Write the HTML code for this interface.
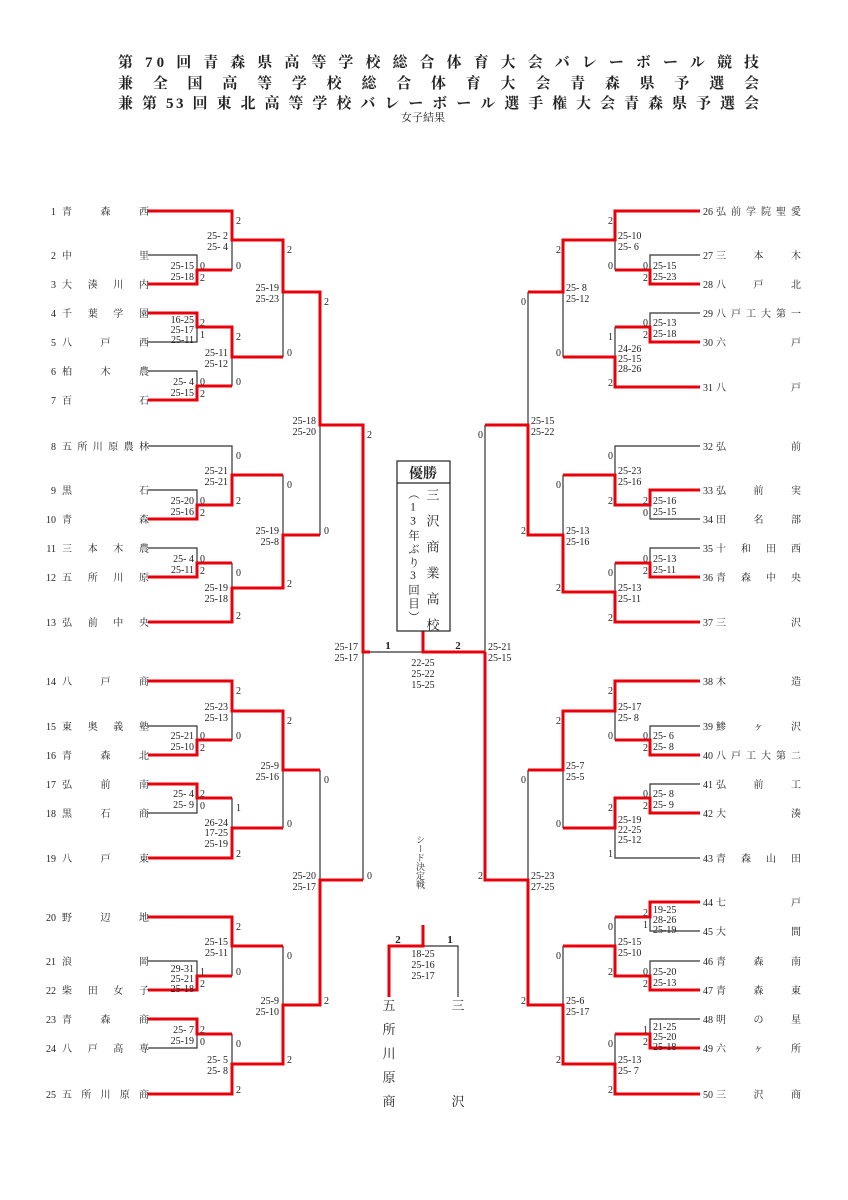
<!DOCTYPE html>
<html><head><meta charset="utf-8"><style>
html,body{margin:0;padding:0;background:#fff}
svg{display:block}
text{font-family:"Liberation Serif","Noto Serif CJK SC",serif;fill:#222}
.r{stroke:#e8000b;stroke-width:3;fill:none;stroke-linejoin:miter}
.k{stroke:#333;stroke-width:1.2;fill:none}
.s{font-size:10px}
.n{font-size:10px}
</style></head><body>
<svg width="848" height="1200" viewBox="0 0 848 1200" xmlns="http://www.w3.org/2000/svg">
<rect width="848" height="1200" fill="#fff"/>
<g font-size="15" font-weight="bold">
<text x="118" y="67" textLength="641" lengthAdjust="spacing">第 70 回 青 森 県 高 等 学 校 総 合 体 育 大 会 バ レ ー ボ ー ル 競 技</text>
<text x="118" y="88" textLength="641" lengthAdjust="spacing">兼 全 国 高 等 学 校 総 合 体 育 大 会 青 森 県 予 選 会</text>
<text x="118" y="108" textLength="641" lengthAdjust="spacing">兼 第 53 回 東 北 高 等 学 校 バ レ ー ボ ー ル 選 手 権 大 会 青 森 県 予 選 会</text>
</g>
<text x="423" y="121" font-size="11" text-anchor="middle">女子結果</text>

<!-- black lines -->
<path class="k" d="M148 255H197V270 M232 240V270 M148 342H197V327 M232 357V386 M148 371H197V386 M283 292V357 M148 446H232V475 M148 490H197V505 M283 475V535 M148 548H197V563 M232 563V588 M320 425V535 M370 652H423 M232 711V740 M148 726H197V740 M148 813H197V798 M232 798V828 M283 770V828 M320 770V880 M363 652V880 M232 946V976 M148 961H197V976 M148 1048H197V1034 M232 1034V1064 M283 946V1005"/>
<path class="k" d="M700 255H650V270 M615 240V270 M700 313H650V327 M615 327V357 M563 292V357 M528 292V425 M700 446H615V475 M700 519H650V505 M563 475V535 M700 548H650V563 M615 563V592 M485 425V652 M700 726H650V740 M615 711V740 M700 784H650V798 M700 858H615V828 M563 770V828 M528 770V880 M700 931H650V917 M700 961H650V976 M615 917V946 M700 1019H650V1034 M615 1034V1064 M563 946V1005"/>
<path class="k" d="M423 946H458V997"/>
<!-- red lines -->
<path class="r" d="M148 211H232V240H283V292H320V425H363V652H370 M148 284H197V270H232 M148 313H197V327H232V357H283 M148 400H197V386H232 M148 519H197V505H232V475H283 M148 577H197V563H232 M148 622H232V588H283V535H320 M148 681H232V711H283V770H320 M148 755H197V740H232 M148 784H197V798H232 M148 858H232V828H283 M148 917H232V946H283 M148 990H197V976H232 M148 1019H197V1034H232 M148 1094H232V1064H283V1005H320V880H363"/>
<path class="r" d="M700 211H615V240H563V292H528 M700 284H650V270H615 M700 342H650V327H615 M700 387H615V357H563 M700 490H650V505H615V475H563 M700 577H650V563H615 M700 622H615V592H563V535H528V425H485 M485 652V880H528V1005H563V1064H615V1094H700 M485 652H423V631 M700 681H615V711H563V770H528 M700 755H650V740H615 M700 813H650V798H615V828H563 M700 902H650V917H615 M700 990H650V976H615V946H563 M700 1048H650V1034H615"/>
<path class="r" d="M423 925V946H389V997"/>

<!-- box -->
<rect x="397" y="461" width="53" height="170" fill="#fff" stroke="#222" stroke-width="1.2"/>
<line x1="397" y1="483" x2="450" y2="483" stroke="#222" stroke-width="1.2"/>
<text x="423" y="478" font-size="14" font-weight="bold" text-anchor="middle">優勝</text>
<text x="432" y="488" font-size="13" style="writing-mode:vertical-rl;letter-spacing:13px">三沢商業高校</text>
<text x="413" y="488" font-size="11.5" style="writing-mode:vertical-rl;text-orientation:upright;letter-spacing:2px">（13年ぶり3回目）</text>

<!-- left names -->
<g class="n">
<g text-anchor="end">
<text x="56" y="215">1</text><text x="56" y="259">2</text><text x="56" y="288">3</text><text x="56" y="317">4</text><text x="56" y="346">5</text><text x="56" y="375">6</text><text x="56" y="404">7</text><text x="56" y="450">8</text><text x="56" y="494">9</text><text x="56" y="523">10</text><text x="56" y="552">11</text><text x="56" y="581">12</text><text x="56" y="626">13</text><text x="56" y="685">14</text><text x="56" y="730">15</text><text x="56" y="759">16</text><text x="56" y="788">17</text><text x="56" y="817">18</text><text x="56" y="862">19</text><text x="56" y="921">20</text><text x="56" y="965">21</text><text x="56" y="994">22</text><text x="56" y="1023">23</text><text x="56" y="1052">24</text><text x="56" y="1098">25</text>
</g>
<text x="62 100.5 139" y="215">青森西</text>
<text x="62 139" y="259">中里</text>
<text x="62 87.7 113.3 139" y="288">大湊川内</text>
<text x="62 87.7 113.3 139" y="317">千葉学園</text>
<text x="62 100.5 139" y="346">八戸西</text>
<text x="62 100.5 139" y="375">柏木農</text>
<text x="62 139" y="404">百石</text>
<text x="62 77.4 92.8 108.2 123.6 139" y="450">五所川原農林</text>
<text x="62 139" y="494">黒石</text>
<text x="62 139" y="523">青森</text>
<text x="62 87.7 113.3 139" y="552">三本木農</text>
<text x="62 87.7 113.3 139" y="581">五所川原</text>
<text x="62 87.7 113.3 139" y="626">弘前中央</text>
<text x="62 100.5 139" y="685">八戸商</text>
<text x="62 87.7 113.3 139" y="730">東奥義塾</text>
<text x="62 100.5 139" y="759">青森北</text>
<text x="62 100.5 139" y="788">弘前南</text>
<text x="62 100.5 139" y="817">黒石商</text>
<text x="62 100.5 139" y="862">八戸東</text>
<text x="62 100.5 139" y="921">野辺地</text>
<text x="62 139" y="965">浪岡</text>
<text x="62 87.7 113.3 139" y="994">柴田女子</text>
<text x="62 100.5 139" y="1023">青森商</text>
<text x="62 87.7 113.3 139" y="1052">八戸高専</text>
<text x="62 81.25 100.5 119.75 139" y="1098">五所川原商</text>
</g>

<!-- right names -->
<g class="n">
<text x="703" y="215">26</text><text x="703" y="259">27</text><text x="703" y="288">28</text><text x="703" y="317">29</text><text x="703" y="346">30</text><text x="703" y="391">31</text><text x="703" y="450">32</text><text x="703" y="494">33</text><text x="703" y="523">34</text><text x="703" y="552">35</text><text x="703" y="581">36</text><text x="703" y="626">37</text><text x="703" y="685">38</text><text x="703" y="730">39</text><text x="703" y="759">40</text><text x="703" y="788">41</text><text x="703" y="817">42</text><text x="703" y="862">43</text><text x="703" y="906">44</text><text x="703" y="935">45</text><text x="703" y="965">46</text><text x="703" y="994">47</text><text x="703" y="1023">48</text><text x="703" y="1052">49</text><text x="703" y="1098">50</text>
<text x="716 731 746 761 776 791" y="215">弘前学院聖愛</text>
<text x="716 753.5 791" y="259">三本木</text>
<text x="716 753.5 791" y="288">八戸北</text>
<text x="716 731 746 761 776 791" y="317">八戸工大第一</text>
<text x="716 791" y="346">六戸</text>
<text x="716 791" y="391">八戸</text>
<text x="716 791" y="450">弘前</text>
<text x="716 753.5 791" y="494">弘前実</text>
<text x="716 753.5 791" y="523">田名部</text>
<text x="716 741 766 791" y="552">十和田西</text>
<text x="716 741 766 791" y="581">青森中央</text>
<text x="716 791" y="626">三沢</text>
<text x="716 791" y="685">木造</text>
<text x="716 753.5 791" y="730">鯵ヶ沢</text>
<text x="716 731 746 761 776 791" y="759">八戸工大第二</text>
<text x="716 753.5 791" y="788">弘前工</text>
<text x="716 791" y="817">大湊</text>
<text x="716 741 766 791" y="862">青森山田</text>
<text x="716 791" y="906">七戸</text>
<text x="716 791" y="935">大間</text>
<text x="716 753.5 791" y="965">青森南</text>
<text x="716 753.5 791" y="994">青森東</text>
<text x="716 753.5 791" y="1023">明の星</text>
<text x="716 753.5 791" y="1052">六ヶ所</text>
<text x="716 753.5 791" y="1098">三沢商</text>
</g>

<!-- left scores -->
<g class="s" text-anchor="end">
<text x="194" y="269">25-15</text><text x="194" y="280">25-18</text>
<text x="194" y="323">16-25</text><text x="194" y="333">25-17</text><text x="194" y="343">25-11</text>
<text x="194" y="385">25-&#160;4</text><text x="194" y="396">25-15</text>
<text x="194" y="504">25-20</text><text x="194" y="515">25-16</text>
<text x="194" y="562">25-&#160;4</text><text x="194" y="573">25-11</text>
<text x="194" y="739">25-21</text><text x="194" y="750">25-10</text>
<text x="194" y="797">25-&#160;4</text><text x="194" y="808">25-&#160;9</text>
<text x="194" y="972">29-31</text><text x="194" y="982">25-21</text><text x="194" y="992">25-18</text>
<text x="194" y="1033">25-&#160;7</text><text x="194" y="1044">25-19</text>
<text x="228" y="239">25-&#160;2</text><text x="228" y="250">25-&#160;4</text>
<text x="228" y="356">25-11</text><text x="228" y="367">25-12</text>
<text x="228" y="474">25-21</text><text x="228" y="485">25-21</text>
<text x="228" y="591">25-19</text><text x="228" y="602">25-18</text>
<text x="228" y="710">25-23</text><text x="228" y="721">25-13</text>
<text x="228" y="826">26-24</text><text x="228" y="836">17-25</text><text x="228" y="847">25-19</text>
<text x="228" y="945">25-15</text><text x="228" y="956">25-11</text>
<text x="228" y="1063">25-&#160;5</text><text x="228" y="1074">25-&#160;8</text>
<text x="279" y="291">25-19</text><text x="279" y="302">25-23</text>
<text x="279" y="534">25-19</text><text x="279" y="545">25-8</text>
<text x="279" y="769">25-9</text><text x="279" y="780">25-16</text>
<text x="279" y="1004">25-9</text><text x="279" y="1015">25-10</text>
<text x="316" y="424">25-18</text><text x="316" y="435">25-20</text>
<text x="316" y="879">25-20</text><text x="316" y="890">25-17</text>
<text x="358" y="650">25-17</text><text x="358" y="661">25-17</text>
</g>
<g class="s">
<text x="200" y="269">0</text><text x="200" y="281">2</text>
<text x="200" y="326">2</text><text x="200" y="338">1</text>
<text x="200" y="385">0</text><text x="200" y="397">2</text>
<text x="200" y="504">0</text><text x="200" y="516">2</text>
<text x="200" y="562">0</text><text x="200" y="574">2</text>
<text x="200" y="739">0</text><text x="200" y="751">2</text>
<text x="200" y="797">2</text><text x="200" y="809">0</text>
<text x="200" y="975">1</text><text x="200" y="987">2</text>
<text x="200" y="1033">2</text><text x="200" y="1045">0</text>
<text x="236" y="224">2</text><text x="236" y="269">0</text>
<text x="236" y="340">2</text><text x="236" y="385">0</text>
<text x="236" y="459">0</text><text x="236" y="504">2</text>
<text x="236" y="576">0</text><text x="236" y="619">2</text>
<text x="236" y="694">2</text><text x="236" y="739">0</text>
<text x="236" y="811">1</text><text x="236" y="857">2</text>
<text x="236" y="930">2</text><text x="236" y="975">0</text>
<text x="236" y="1047">0</text><text x="236" y="1093">2</text>
<text x="287" y="253">2</text><text x="287" y="356">0</text>
<text x="287" y="488">0</text><text x="287" y="587">2</text>
<text x="287" y="724">2</text><text x="287" y="827">0</text>
<text x="287" y="959">0</text><text x="287" y="1063">2</text>
<text x="324" y="305">2</text><text x="324" y="534">0</text>
<text x="324" y="783">0</text><text x="324" y="1004">2</text>
<text x="367" y="438">2</text><text x="367" y="879">0</text>
</g>

<!-- right scores -->
<g class="s">
<text x="653" y="269">25-15</text><text x="653" y="280">25-23</text>
<text x="653" y="326">25-13</text><text x="653" y="337">25-18</text>
<text x="653" y="504">25-16</text><text x="653" y="515">25-15</text>
<text x="653" y="562">25-13</text><text x="653" y="573">25-11</text>
<text x="653" y="739">25-&#160;6</text><text x="653" y="750">25-&#160;8</text>
<text x="653" y="797">25-&#160;8</text><text x="653" y="808">25-&#160;9</text>
<text x="653" y="913">19-25</text><text x="653" y="923">28-26</text><text x="653" y="933">25-19</text>
<text x="653" y="975">25-20</text><text x="653" y="986">25-13</text>
<text x="653" y="1030">21-25</text><text x="653" y="1040">25-20</text><text x="653" y="1050">25-18</text>
<text x="618" y="239">25-10</text><text x="618" y="250">25-&#160;6</text>
<text x="618" y="352">24-26</text><text x="618" y="362">25-15</text><text x="618" y="372">28-26</text>
<text x="618" y="474">25-23</text><text x="618" y="485">25-16</text>
<text x="618" y="591">25-13</text><text x="618" y="602">25-11</text>
<text x="618" y="710">25-17</text><text x="618" y="721">25-&#160;8</text>
<text x="618" y="823">25-19</text><text x="618" y="833">22-25</text><text x="618" y="843">25-12</text>
<text x="618" y="945">25-15</text><text x="618" y="956">25-10</text>
<text x="618" y="1063">25-13</text><text x="618" y="1074">25-&#160;7</text>
<text x="566" y="291">25-&#160;8</text><text x="566" y="302">25-12</text>
<text x="566" y="534">25-13</text><text x="566" y="545">25-16</text>
<text x="566" y="769">25-7</text><text x="566" y="780">25-5</text>
<text x="566" y="1004">25-6</text><text x="566" y="1015">25-17</text>
<text x="531" y="424">25-15</text><text x="531" y="435">25-22</text>
<text x="531" y="879">25-23</text><text x="531" y="890">27-25</text>
<text x="488" y="650">25-21</text><text x="488" y="661">25-15</text>
</g>
<g class="s" text-anchor="end">
<text x="648" y="269">0</text><text x="648" y="281">2</text>
<text x="648" y="326">0</text><text x="648" y="338">2</text>
<text x="648" y="504">2</text><text x="648" y="516">0</text>
<text x="648" y="562">0</text><text x="648" y="574">2</text>
<text x="648" y="739">0</text><text x="648" y="751">2</text>
<text x="648" y="797">0</text><text x="648" y="809">2</text>
<text x="648" y="916">2</text><text x="648" y="928">1</text>
<text x="648" y="975">0</text><text x="648" y="987">2</text>
<text x="648" y="1033">1</text><text x="648" y="1045">2</text>
<text x="613" y="224">2</text><text x="613" y="269">0</text>
<text x="613" y="340">1</text><text x="613" y="386">2</text>
<text x="613" y="459">0</text><text x="613" y="504">2</text>
<text x="613" y="576">0</text><text x="613" y="621">2</text>
<text x="613" y="694">2</text><text x="613" y="739">0</text>
<text x="613" y="811">2</text><text x="613" y="857">1</text>
<text x="613" y="930">0</text><text x="613" y="975">2</text>
<text x="613" y="1047">0</text><text x="613" y="1093">2</text>
<text x="561" y="253">2</text><text x="561" y="356">0</text>
<text x="561" y="488">0</text><text x="561" y="591">2</text>
<text x="561" y="724">2</text><text x="561" y="827">0</text>
<text x="561" y="959">0</text><text x="561" y="1063">2</text>
<text x="526" y="305">0</text><text x="526" y="534">2</text>
<text x="526" y="783">0</text><text x="526" y="1004">2</text>
<text x="483" y="438">0</text><text x="483" y="879">2</text>
</g>

<!-- final -->
<text x="388" y="649" font-size="11" font-weight="bold" text-anchor="middle">1</text>
<text x="458" y="649" font-size="11" font-weight="bold" text-anchor="middle">2</text>
<g class="s" text-anchor="middle">
<text x="423" y="666">22-25</text><text x="423" y="677">25-22</text><text x="423" y="688">15-25</text>
</g>

<!-- seed match -->
<text x="420" y="835" font-size="9" style="writing-mode:vertical-rl" fill="#444">シード決定戦</text>
<text x="398" y="943" font-size="11" font-weight="bold" text-anchor="middle">2</text>
<text x="450" y="943" font-size="11" font-weight="bold" text-anchor="middle">1</text>
<g class="s" text-anchor="middle">
<text x="423" y="957">18-25</text><text x="423" y="968">25-16</text><text x="423" y="979">25-17</text>
</g>
<g font-size="13" text-anchor="middle">
<text x="389" y="1010">五</text><text x="389" y="1034">所</text><text x="389" y="1058">川</text><text x="389" y="1082">原</text><text x="389" y="1106">商</text>
<text x="458" y="1010">三</text><text x="458" y="1106">沢</text>
</g>
</svg>
</body></html>
